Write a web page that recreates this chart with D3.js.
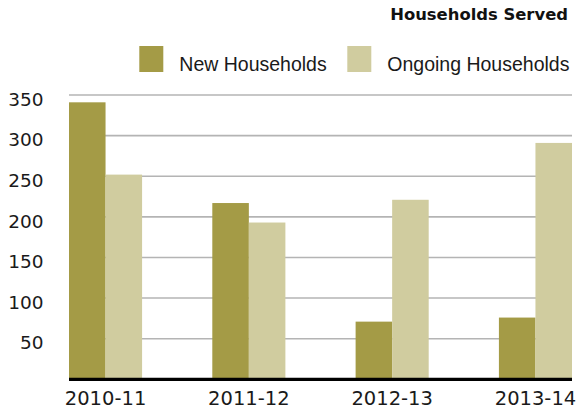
<!DOCTYPE html>
<html>
<head>
<meta charset="utf-8">
<script src="https://cdn.jsdelivr.net/npm/d3@7"></script>
<style>
  html, body { margin: 0; padding: 0; background: #fff; }
  svg { display: block; }
</style>
</head>
<body>
<svg id="chart" width="577" height="410"></svg>
<script>
// Households served per program year
const years = ["2010-11", "2011-12", "2012-13", "2013-14"];
const newHouseholds = [341, 217, 71, 76];
const ongoingHouseholds = [252, 193, 221, 291];
const seriesNames = ["New Households", "Ongoing Households"];
const seriesColors = ["#a49b46", "#d0cc9f"];
const yTicks = [50, 100, 150, 200, 250, 300, 350];

const svg = d3.select("#chart");
const plotLeft = 69, plotRight = 572, plotTop = 95, plotBottom = 379.3;

const x = d3.scaleBand().domain(years).range([plotLeft, plotRight]).paddingInner(0.49).paddingOuter(0);
const xSub = d3.scaleBand().domain(seriesNames).range([0, x.bandwidth()]);
const y = d3.scaleLinear().domain([0, 350]).range([plotBottom, plotTop]);

// horizontal gridlines
svg.append("g")
  .selectAll("line")
  .data(yTicks)
  .join("line")
  .attr("x1", plotLeft).attr("x2", plotRight)
  .attr("y1", d => y(d)).attr("y2", d => y(d))
  .attr("stroke", "#b4b4b4").attr("stroke-width", 1.6);

// y axis labels
const yAxis = d3.axisLeft(y).tickValues(yTicks).tickSize(0).tickPadding(0);
svg.append("g")
  .attr("transform", `translate(43.5,0)`)
  .call(yAxis)
  .call(g => g.select(".domain").remove())
  .call(g => g.selectAll("text")
    .attr("font-family", "DejaVu Sans")
    .attr("font-size", "18.5px")
    .attr("fill", "#1a1a1a")
    .attr("dy", "0.55em")
    .attr("dx", 0));

// bars
const rows = years.map((yr, i) => ({ year: yr, values: [newHouseholds[i], ongoingHouseholds[i]] }));
svg.append("g")
  .selectAll("g")
  .data(rows)
  .join("g")
  .attr("transform", d => `translate(${x(d.year)},0)`)
  .selectAll("rect")
  .data(d => d.values.map((v, k) => ({ key: seriesNames[k], value: v, color: seriesColors[k] })))
  .join("rect")
  .attr("x", d => xSub(d.key))
  .attr("width", xSub.bandwidth())
  .attr("y", d => y(d.value))
  .attr("height", d => y(0) - y(d.value))
  .attr("fill", d => d.color);

// baseline
svg.append("line")
  .attr("x1", plotLeft).attr("x2", plotRight)
  .attr("y1", y(0)).attr("y2", y(0))
  .attr("stroke", "#000").attr("stroke-width", 3.2);

// x axis labels
const xAxis = d3.axisBottom(x).tickSize(0).tickPadding(0);
svg.append("g")
  .attr("transform", `translate(0,404.5)`)
  .call(xAxis)
  .call(g => g.select(".domain").remove())
  .call(g => g.selectAll("text")
    .attr("font-family", "DejaVu Sans")
    .attr("font-size", "19.5px")
    .attr("fill", "#1a1a1a")
    .attr("y", 0)
    .attr("dy", 0));

// title
svg.append("text")
  .attr("x", 568).attr("y", 20)
  .attr("text-anchor", "end")
  .attr("font-family", "DejaVu Sans")
  .attr("font-weight", "bold")
  .attr("font-size", "16.4px")
  .attr("fill", "#111")
  .text("Households Served");

// legend
const legendX = [139.3, 347.3];
const legend = svg.append("g")
  .selectAll("g")
  .data(seriesNames)
  .join("g")
  .attr("transform", (d, i) => `translate(${legendX[i]},46)`);
legend.append("rect")
  .attr("width", 24).attr("height", 26)
  .attr("fill", (d, i) => seriesColors[i]);
legend.append("text")
  .attr("x", 40).attr("y", 24.6)
  .attr("font-family", "Liberation Sans")
  .attr("font-size", "19.5px")
  .attr("fill", "#1a1a1a")
  .text(d => d);
</script>
</body>
</html>
